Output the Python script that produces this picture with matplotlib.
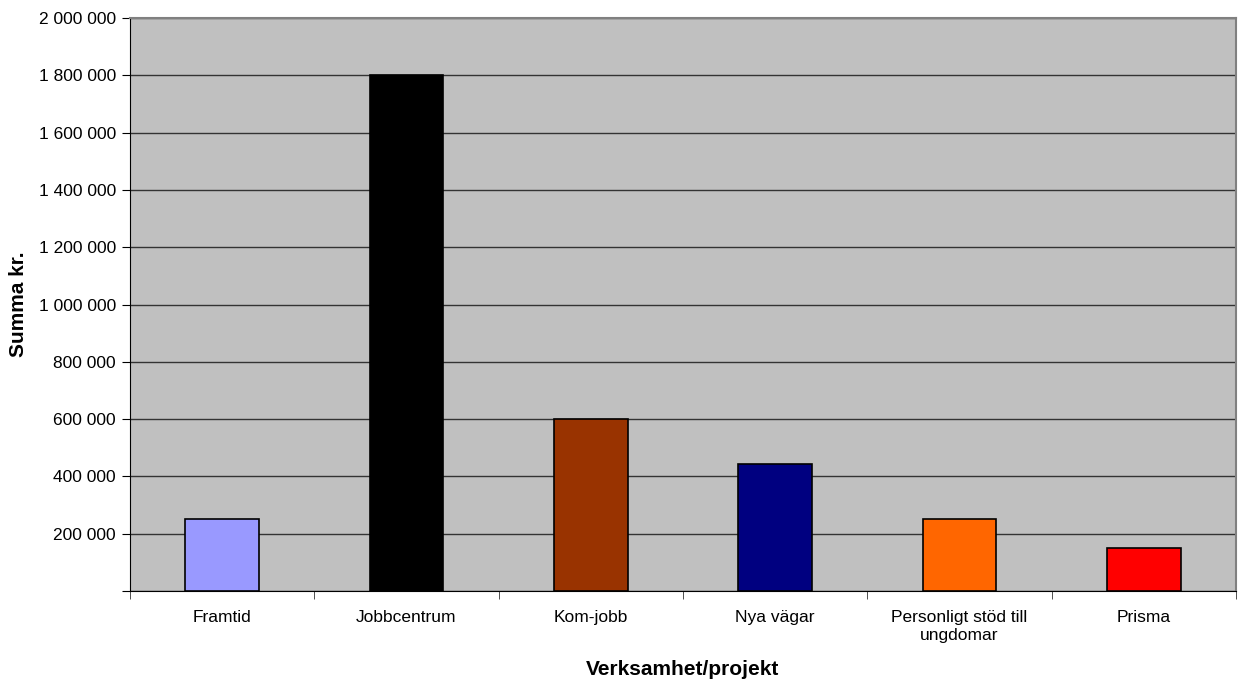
import numpy as np
import matplotlib.pyplot as plt
from matplotlib.ticker import FuncFormatter, FixedLocator

categories = ["Framtid", "Jobbcentrum", "Kom-jobb", "Nya vägar",
              "Personligt stöd till\nungdomar", "Prisma"]
values = [250000, 1800000, 600000, 445000, 250000, 150000]
colors = ["#9999FF", "#000000", "#993300", "#000080", "#FF6600", "#FF0000"]
yticks = np.arange(0, 2000001, 200000)

plt.rcParams["font.family"] = ["Liberation Sans", "DejaVu Sans"]

fig = plt.figure(figsize=(12.44, 6.86), dpi=100)
ax = fig.add_axes([130 / 1244, 95 / 686, 1106 / 1244, 573 / 686])
ax.set_facecolor("#C0C0C0")

x = np.arange(len(categories))
ax.bar(x, values, width=0.4, color=colors, edgecolor="black", linewidth=1.2, zorder=3)

ax.set_xlim(-0.5, len(categories) - 0.5)
ax.set_ylim(0, 2000000)
ax.set_yticks(yticks)
ax.yaxis.set_major_formatter(FuncFormatter(
    lambda v, p: "" if v == 0 else f"{int(v):,}".replace(",", " ")))
ax.grid(axis="y", color="#333333", linewidth=1.0, zorder=1)

ax.set_xticks(x)
ax.set_xticklabels(categories, fontsize=12.5, linespacing=1.25)
ax.xaxis.set_minor_locator(FixedLocator(np.arange(-0.5, len(categories), 1.0)))
ax.tick_params(axis="x", which="major", length=0, pad=14)
ax.tick_params(axis="x", which="minor", length=6, direction="out", color="#333333")
ax.tick_params(axis="y", length=6, direction="out", labelsize=12.5, pad=4)

for s in ["top", "right"]:
    ax.spines[s].set_color("#808080")
    ax.spines[s].set_linewidth(1.5)
for s in ["left", "bottom"]:
    ax.spines[s].set_color("black")

ax.set_xlabel("Verksamhet/projekt", fontsize=15, fontweight="bold", labelpad=12)
ax.set_ylabel("Summa kr.", fontsize=15, fontweight="bold", labelpad=8)

fig.savefig("out.png", dpi=100)
